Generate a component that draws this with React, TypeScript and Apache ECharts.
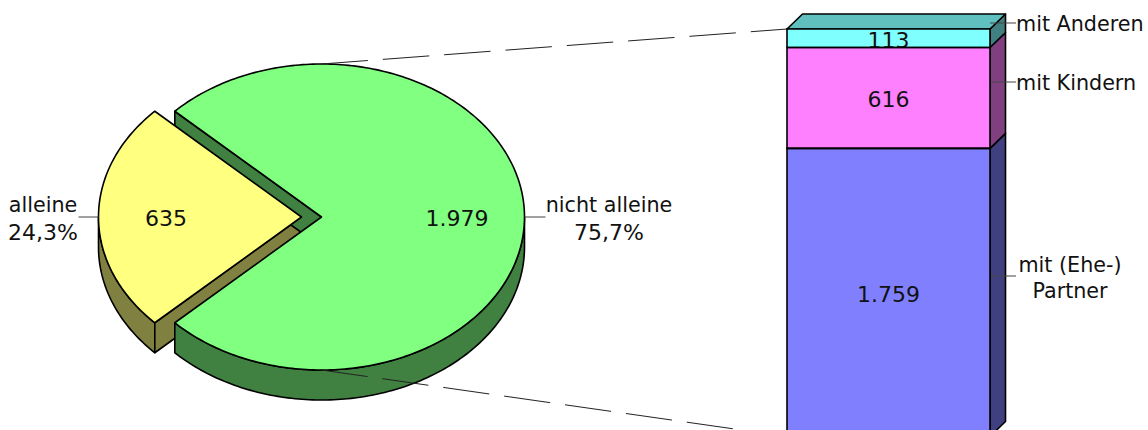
import React, { useEffect, useRef } from "react";
import * as echarts from "echarts";

// Household composition: living alone vs. not alone, with a breakdown of the latter.
const pieNames = ["alleine", "nicht alleine"];
const pieValues = [635, 1979];
const barNames = ["mit (Ehe-)\nPartner", "mit Kindern", "mit Anderen"];
const barValues = [1759, 616, 113];
const barTotal = barValues.reduce((a, b) => a + b, 0);
const pieTotal = pieValues.reduce((a, b) => a + b, 0);

const FONT = "'DejaVu Sans', Verdana, sans-serif";
const SIZE = 20.7;
const NUM_SIZE = 22;
const INK = "#000";
const TEXT = "#111";
const LEADER = "#444";

const pieFace = ["#FFFF80", "#80FF80"];
const pieShade = ["#808040", "#408040"];
const barFace = ["#8080FF", "#FF80FF", "#80FFFF"];
const barShade = ["#404080", "#804080", "#408080"];
const barLid = "#60C0C0";

const PIE_GRID = { left: 118.5, top: 64, width: 406, height: 306 };
const BAR_GRID = { left: 787, top: 29, width: 203, height: 407.5 };

const DEPTH = 30; // extruded height of the pie, px
const EXPLODE = 20; // offset of the pulled-out slice, px
const BAR_DX = 15.5;
const BAR_DY = -15;

const thousands = (v: number) => String(v).replace(/\B(?=(\d{3})+$)/g, ".");
const percent = (v: number) => ((v / pieTotal) * 100).toFixed(1).replace(".", ",") + "%";

// half opening of the "alleine" slice, centred on the left-hand side
const half = (pieValues[0] / pieTotal) * 180;
const arcSteps = (from: number, to: number) => {
  const n = Math.max(2, Math.ceil(Math.abs(to - from)));
  const out: number[] = [];
  for (let i = 0; i <= n; i++) out.push(from + ((to - from) * i) / n);
  return out;
};

function renderPieLayer(params: any, api: any) {
  const at = (deg: number, dx = 0, dy = 0) => {
    const p = api.coord([Math.cos((deg * Math.PI) / 180), Math.sin((deg * Math.PI) / 180)]);
    return [p[0] + dx, p[1] + dy];
  };
  const centre = (dx = 0, dy = 0) => {
    const p = api.coord([0, 0]);
    return [p[0] + dx, p[1] + dy];
  };
  const poly = (points: number[][], fill: string) => ({
    type: "polygon",
    shape: { points },
    style: { fill, stroke: INK, lineWidth: 1.6, lineJoin: "round" },
  });
  const wall = (from: number, to: number, dx: number, fill: string) => {
    const steps = arcSteps(from, to);
    return poly(
      [...steps.map((d) => at(d, dx)), ...steps.slice().reverse().map((d) => at(d, dx, DEPTH))],
      fill,
    );
  };
  const flat = (a: number[], b: number[], fill: string) =>
    poly([a, b, [b[0], b[1] + DEPTH], [a[0], a[1] + DEPTH]], fill);

  const layer = params.dataIndex;
  const yellowEnd = 180 + half;
  const greenStart = 180 - half;
  const greenEnd = -180 + half;
  let children: any[] = [];
  if (layer === 0) {
    children = [
      wall(180, yellowEnd, -EXPLODE, pieShade[0]),
      flat(centre(-EXPLODE), at(yellowEnd, -EXPLODE), pieShade[0]),
    ];
  } else if (layer === 1) {
    children = [flat(at(greenStart), centre(), pieShade[1]), wall(0, greenEnd, 0, pieShade[1])];
  } else if (layer === 2) {
    children = [poly([centre(), ...arcSteps(greenStart, greenEnd).map((d) => at(d))], pieFace[1])];
  } else {
    children = [
      poly(
        [centre(-EXPLODE), ...arcSteps(180 - half, yellowEnd).map((d) => at(d, -EXPLODE))],
        pieFace[0],
      ),
    ];
  }
  return { type: "group", children };
}

function renderPieNotes(_params: any, api: any) {
  const mk = (x: number, y: number, text: string, size = SIZE) => ({
    type: "text",
    style: {
      x,
      y,
      text,
      font: `${size}px ${FONT}`,
      fill: TEXT,
      align: "center",
      verticalAlign: "middle",
    },
  });
  const seg = (x1: number, y1: number, x2: number, y2: number) => ({
    type: "line",
    shape: { x1, y1, x2, y2 },
    style: { stroke: LEADER, lineWidth: 1 },
  });
  const left = api.coord([-1, 0]);
  const right = api.coord([1, 0]);
  const mid = api.coord([0, 0]);
  return {
    type: "group",
    children: [
      seg(left[0] - EXPLODE - 20, left[1], left[0] - EXPLODE, left[1]),
      seg(right[0], right[1], right[0] + 21, right[1]),
      mk(43, 205, pieNames[0]),
      mk(43, 232, percent(pieValues[0]), NUM_SIZE),
      mk(609, 205, pieNames[1]),
      mk(609, 232, percent(pieValues[1]), NUM_SIZE),
      mk(mid[0] - 155.5, 218, thousands(pieValues[0]), NUM_SIZE),
      mk(mid[0] + 135.5, 218, thousands(pieValues[1]), NUM_SIZE),
    ],
  };
}

// Right and top faces of the stacked column plus its outside labels.
function renderColumnDepth(params: any, api: any) {
  const i = params.dataIndex;
  const base = barValues.slice(0, i).reduce((a, b) => a + b, 0);
  const top = base + barValues[i];
  const band = api.size([1, 0])[0];
  const c = api.coord([0, base]);
  const t = api.coord([0, top]);
  const xL = c[0] - band / 2;
  const xR = c[0] + band / 2;
  const stroke = { stroke: INK, lineWidth: 1.6, lineJoin: "round" };
  const children: any[] = [
    {
      type: "polygon",
      shape: {
        points: [
          [xR, c[1]],
          [xR + BAR_DX, c[1] + BAR_DY],
          [xR + BAR_DX, t[1] + BAR_DY],
          [xR, t[1]],
        ],
      },
      style: { fill: barShade[i], ...stroke },
    },
  ];
  if (i === barValues.length - 1) {
    children.push({
      type: "polygon",
      shape: {
        points: [
          [xL, t[1]],
          [xL + BAR_DX, t[1] + BAR_DY],
          [xR + BAR_DX, t[1] + BAR_DY],
          [xR, t[1]],
        ],
      },
      style: { fill: barLid, ...stroke },
    });
  }
  const noteY = [276, 82, 23][i];
  children.push({
    type: "line",
    shape: { x1: xR, y1: noteY, x2: xR + 26, y2: noteY },
    style: { stroke: LEADER, lineWidth: 1 },
  });
  const multi = barNames[i].includes("\n");
  children.push({
    type: "text",
    style: {
      x: multi ? xR + 80 : xR + 26,
      y: multi ? 278 : noteY + 1,
      text: barNames[i],
      font: `${SIZE}px ${FONT}`,
      fill: TEXT,
      align: multi ? "center" : "left",
      verticalAlign: "middle",
      lineHeight: 26,
    },
  });
  return { type: "group", children };
}

// Single-width outline around each front face of the column.
function renderColumnOutline(params: any, api: any) {
  const i = params.dataIndex;
  const base = barValues.slice(0, i).reduce((a, b) => a + b, 0);
  const band = api.size([1, 0])[0];
  const c = api.coord([0, base]);
  const t = api.coord([0, base + barValues[i]]);
  return {
    type: "rect",
    shape: { x: c[0] - band / 2, y: t[1], width: band, height: c[1] - t[1] },
    style: { fill: "none", stroke: INK, lineWidth: 1.6 },
  };
}

// Dashed guides from the pie's top and bottom to the column's top and bottom.
function renderGuides(params: any, api: any) {
  const end = api.coord([0, api.value(0)]);
  const band = api.size([1, 0])[0];
  const cx = PIE_GRID.left + PIE_GRID.width / 2;
  const y1 = params.dataIndex === 0 ? PIE_GRID.top : PIE_GRID.top + PIE_GRID.height;
  return {
    type: "line",
    shape: { x1: cx, y1, x2: end[0] - band / 2, y2: end[1] },
    style: { stroke: "#222", lineWidth: 1, lineDash: [46.5, 15] },
  };
}

export default function App() {
  const ref = useRef<HTMLDivElement>(null);
  useEffect(() => {
    const chart = echarts.init(ref.current!, undefined, { renderer: "svg" });
    const pieAxes = { xAxisIndex: 0, yAxisIndex: 0 };
    const barAxes = { xAxisIndex: 1, yAxisIndex: 1 };
    const unitAxis = { type: "value", min: -1, max: 1, show: false };
    chart.setOption({
      animation: false,
      backgroundColor: "#fff",
      grid: [
        { ...PIE_GRID, outerBoundsMode: "none" },
        { ...BAR_GRID, outerBoundsMode: "none" },
      ],
      xAxis: [unitAxis, { gridIndex: 1, type: "category", data: ["nicht alleine"], show: false }],
      yAxis: [unitAxis, { gridIndex: 1, type: "value", min: 0, max: barTotal, show: false }],
      series: [
        {
          type: "custom",
          ...pieAxes,
          data: [0, 1, 2, 3],
          renderItem: renderPieLayer,
          clip: false,
          z: 2,
          silent: true,
        },
        {
          type: "custom",
          ...barAxes,
          data: [barTotal, 0],
          encode: { y: 0 },
          renderItem: renderGuides,
          clip: false,
          z: 3,
          silent: true,
        },
        {
          type: "custom",
          ...barAxes,
          data: barValues,
          encode: { y: 0 },
          renderItem: renderColumnDepth,
          clip: false,
          z: 4,
          silent: true,
        },
        ...barValues.map((v, i) => ({
          type: "bar",
          ...barAxes,
          stack: "haushalt",
          barWidth: "100%",
          z: 5,
          silent: true,
          data: [v],
          itemStyle: { color: barFace[i] },
          label: {
            show: true,
            position: "inside",
            offset: [0, 2],
            formatter: () => thousands(v),
            fontFamily: FONT,
            fontSize: NUM_SIZE,
            color: TEXT,
          },
        })),
        {
          type: "custom",
          ...barAxes,
          data: barValues,
          encode: { y: 0 },
          renderItem: renderColumnOutline,
          clip: false,
          z: 6,
          silent: true,
        },
        {
          type: "custom",
          ...pieAxes,
          data: [0],
          renderItem: renderPieNotes,
          clip: false,
          z: 7,
          silent: true,
        },
      ],
    });
    return () => chart.dispose();
  }, []);
  return (
    <div
      ref={ref}
      style={{ position: "absolute", left: 0, top: 0, width: 1148, height: 430, overflow: "hidden" }}
    />
  );
}
